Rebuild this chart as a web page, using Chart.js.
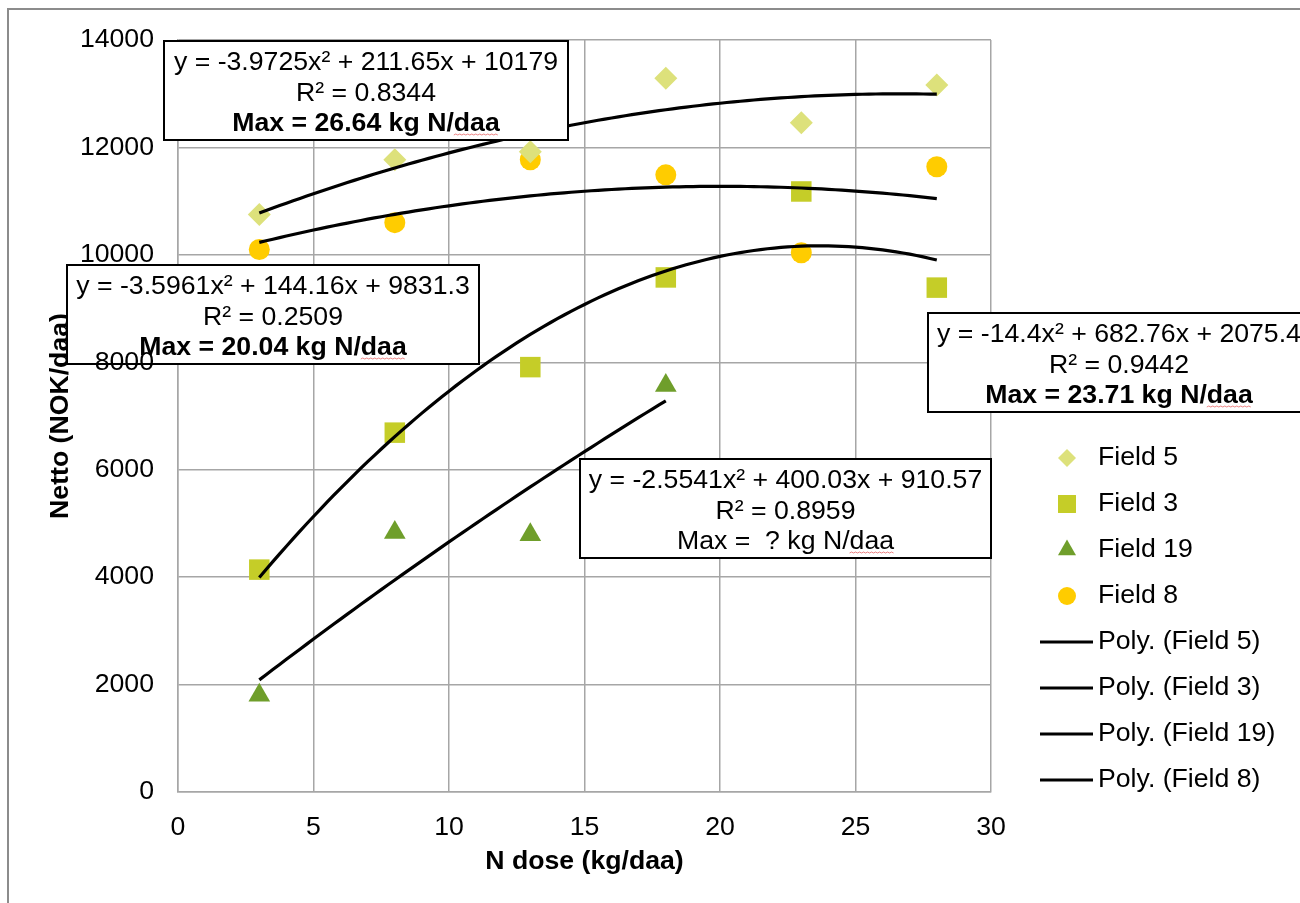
<!DOCTYPE html>
<html>
<head>
<meta charset="utf-8">
<title>Netto vs N dose</title>
<script src="https://cdn.jsdelivr.net/npm/chart.js@4.4.1/dist/chart.umd.min.js"></script>
<style>
  html, body { margin: 0; padding: 0; background: #fff; }
  #wrap { width: 1300px; height: 903px; }
</style>
</head>
<body>
<div id="wrap"><canvas id="chart" width="1300" height="903"></canvas></div>
<script>
// N dose levels (kg/daa)
const doses = [3, 8, 13, 18, 23, 28];

// netto (NOK/daa) per field
const field5 = [10750, 11770, 11920, 13290, 12460, 13160];
const field3 = [4140, 6690, 7910, 9580, 11180, 9390];
const field19 = [1800, 4830, 4790, 7570];
const field8 = [10100, 10600, 11770, 11490, 10040, 11640];

// polynomial trendlines as printed: [a, b, c] for y = a*x^2 + b*x + c
const poly5 = [-3.9725, 211.65, 10179];
const poly3 = [-14.4, 682.76, 2075.4];
const poly19 = [-2.5541, 400.03, 910.57];
const poly8 = [-3.5961, 144.16, 9831.3];

const xTicks = [0, 5, 10, 15, 20, 25, 30];
const yTicks = [0, 2000, 4000, 6000, 8000, 10000, 12000, 14000];

const FONT = '"Liberation Sans", Arial, sans-serif';
const FS = 26.67;
Chart.defaults.font.family = FONT;
Chart.defaults.color = '#000';

function points(xs, ys) {
  return ys.map((y, i) => ({ x: xs[i], y: y }));
}

// trendline drawn over the range of its own doses
function trend(coef, xs) {
  const out = [];
  const from = xs[0], to = xs[xs.length - 1];
  for (let x = from; x <= to + 1e-9; x += 0.25) {
    out.push({ x: x, y: coef[0] * x * x + coef[1] * x + coef[2] });
  }
  return out;
}

// equation boxes
const eqBoxes = [
  { lines: ['y = -3.9725x² + 211.65x + 10179', 'R² = 0.8344', 'Max = 26.64 kg N/daa'], bold: true, x: 164, y: 41, w: 404, h: 99 },
  { lines: ['y = -3.5961x² + 144.16x + 9831.3', 'R² = 0.2509', 'Max = 20.04 kg N/daa'], bold: true, x: 67, y: 265, w: 412, h: 99 },
  { lines: ['y = -14.4x² + 682.76x + 2075.4', 'R² = 0.9442', 'Max = 23.71 kg N/daa'], bold: true, x: 928, y: 313, w: 382, h: 99 },
  { lines: ['y = -2.5541x² + 400.03x + 910.57', 'R² = 0.8959', 'Max =  ? kg N/daa'], bold: false, x: 580, y: 459, w: 411, h: 99 }
];

const frame = {
  id: 'frame',
  beforeDraw(chart) {
    const ctx = chart.ctx;
    ctx.save();
    ctx.fillStyle = '#fff';
    ctx.fillRect(0, 0, chart.width, chart.height);
    ctx.strokeStyle = '#8c8c8c';
    ctx.lineWidth = 2;
    ctx.strokeRect(8, 9, 1400, 1000);
    ctx.restore();
  }
};

// spell-check style squiggle under the last word
function squiggle(ctx, x0, x1, y) {
  ctx.save();
  ctx.strokeStyle = 'rgba(230, 90, 90, 0.75)';
  ctx.lineWidth = 1;
  ctx.beginPath();
  let up = true;
  ctx.moveTo(x0, y);
  for (let x = x0 + 2; x <= x1; x += 2) {
    ctx.lineTo(x, up ? y - 1 : y);
    up = !up;
  }
  ctx.stroke();
  ctx.restore();
}

const eqLabels = {
  id: 'eqLabels',
  afterDatasetsDraw(chart) {
    const ctx = chart.ctx;
    ctx.save();
    eqBoxes.forEach(b => {
      ctx.fillStyle = '#fff';
      ctx.fillRect(b.x, b.y, b.w, b.h);
      ctx.strokeStyle = '#000';
      ctx.lineWidth = 2;
      ctx.strokeRect(b.x, b.y, b.w, b.h);
      ctx.fillStyle = '#000';
      ctx.textAlign = 'center';
      ctx.textBaseline = 'alphabetic';
      const cx = b.x + b.w / 2;
      b.lines.forEach((t, i) => {
        ctx.font = (i === 2 && b.bold ? 'bold ' : '') + FS + 'px ' + FONT;
        const by = b.y + 29 + i * 30.5;
        ctx.fillText(t, cx, by);
        if (i === 2) {
          const full = ctx.measureText(t).width;
          const tail = ctx.measureText('daa').width;
          const right = cx + full / 2;
          squiggle(ctx, right - tail, right, by + 4);
        }
      });
    });
    ctx.restore();
  }
};

const sideLegend = {
  id: 'sideLegend',
  afterDraw(chart) {
    const ctx = chart.ctx;
    ctx.save();
    chart.data.datasets.forEach((ds, i) => {
      const y = 458 + i * 46;
      if (ds.showLine) {
        ctx.strokeStyle = '#000';
        ctx.lineWidth = 3;
        ctx.beginPath();
        ctx.moveTo(1040, y);
        ctx.lineTo(1093, y);
        ctx.stroke();
      } else {
        ctx.fillStyle = ds.backgroundColor;
        ctx.strokeStyle = ds.backgroundColor;
        Chart.helpers.drawPoint(ctx, {
          pointStyle: ds.pointStyle,
          radius: ds.legendRadius,
          rotation: 0,
          borderWidth: 0
        }, 1067, y);
      }
      ctx.fillStyle = '#000';
      ctx.font = FS + 'px ' + FONT;
      ctx.textAlign = 'left';
      ctx.textBaseline = 'middle';
      ctx.fillText(ds.label, 1098, y);
    });
    ctx.restore();
  }
};

const gridColor = '#a6a6a6';

new Chart(document.getElementById('chart'), {
  type: 'scatter',
  data: {
    datasets: [
      { label: 'Field 5', data: points(doses, field5), pointStyle: 'rectRot', pointRadius: 11.5, legendRadius: 9, backgroundColor: '#dde17b', borderWidth: 0, order: 1 },
      { label: 'Field 3', data: points(doses, field3), pointStyle: 'rect', pointRadius: 14.5, legendRadius: 12.7, backgroundColor: '#c5cd28', borderWidth: 0, order: 1 },
      { label: 'Field 19', data: points(doses, field19), pointStyle: 'triangle', pointRadius: 12.5, legendRadius: 10.4, backgroundColor: '#6f9e2b', borderWidth: 0, order: 1 },
      { label: 'Field 8', data: points(doses, field8), pointStyle: 'circle', pointRadius: 10.5, legendRadius: 9, backgroundColor: '#ffcc00', borderWidth: 0, order: 1 },
      { label: 'Poly. (Field 5)', data: trend(poly5, doses), showLine: true, pointRadius: 0, borderColor: '#000', borderWidth: 3.2, order: 0 },
      { label: 'Poly. (Field 3)', data: trend(poly3, doses), showLine: true, pointRadius: 0, borderColor: '#000', borderWidth: 3.2, order: 0 },
      { label: 'Poly. (Field 19)', data: trend(poly19, doses.slice(0, field19.length)), showLine: true, pointRadius: 0, borderColor: '#000', borderWidth: 3.2, order: 0 },
      { label: 'Poly. (Field 8)', data: trend(poly8, doses), showLine: true, pointRadius: 0, borderColor: '#000', borderWidth: 3.2, order: 0 }
    ]
  },
  options: {
    responsive: false,
    animation: false,
    events: [],
    layout: { padding: { top: 38, right: 309, left: 0, bottom: 0 }, autoPadding: false },
    plugins: {
      legend: { display: false },
      tooltip: { enabled: false }
    },
    scales: {
      x: {
        type: 'linear',
        min: 0,
        max: 30,
        afterBuildTicks: s => { s.ticks = xTicks.map(v => ({ value: v })); },
        afterFit: s => { s.height = 111; },
        ticks: { font: { size: FS }, color: '#000', padding: 20, maxRotation: 0 },
        grid: { color: gridColor, lineWidth: 1.5, drawTicks: false },
        border: { color: gridColor, width: 1.5 },
        title: { display: true, text: 'N dose (kg/daa)', color: '#000', font: { size: FS, weight: 'bold' }, padding: { top: 0, bottom: 25 } }
      },
      y: {
        type: 'linear',
        min: 0,
        max: 14000,
        afterBuildTicks: s => { s.ticks = yTicks.map(v => ({ value: v })); },
        afterFit: s => { s.width = 178; },
        ticks: { font: { size: FS }, color: '#000', padding: 24, z: 1, callback: v => String(v) },
        grid: { color: gridColor, lineWidth: 1.5, drawTicks: false },
        border: { color: gridColor, width: 1.5 },
        title: { display: true, text: 'Netto (NOK/daa)', color: '#000', font: { size: FS, weight: 'bold' }, padding: { top: 45, bottom: 0 } }
      }
    }
  },
  plugins: [frame, eqLabels, sideLegend]
});
</script>
</body>
</html>
